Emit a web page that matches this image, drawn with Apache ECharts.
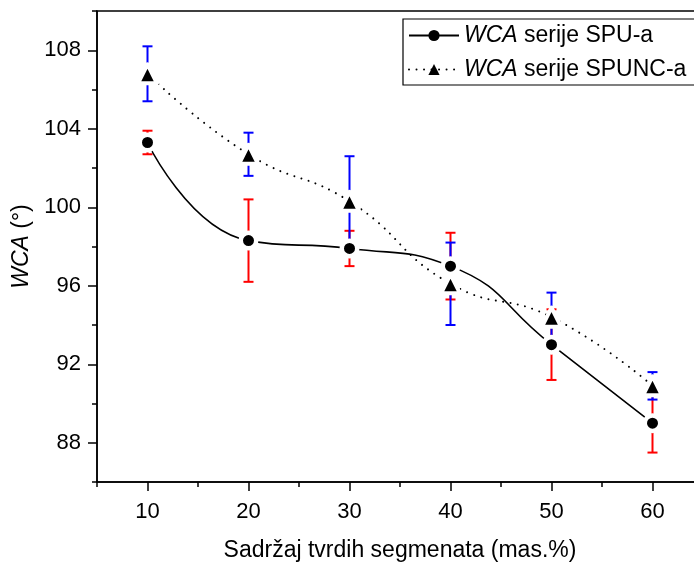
<!DOCTYPE html>
<html>
<head>
<meta charset="utf-8">
<script src="https://cdn.jsdelivr.net/npm/echarts@6/dist/echarts.min.js"></script>
<style>
html,body{margin:0;padding:0;background:#fff;}
#c{width:694px;height:562px;}
</style>
</head>
<body>
<div id="c"></div>
<script>
// ---- data ----
const xValues = [10, 20, 30, 40, 50, 60];
const spuValues = [103.3, 98.3, 97.9, 97.0, 93.0, 89.0];
const spuErrors = [0.6, 2.1, 0.9, 1.7, 1.8, 1.5];
const spuncValues = [106.8, 102.7, 100.3, 96.1, 94.4, 90.9];
const spuncErrors = [1.4, 1.1, 2.3, 2.1, 1.25, 0.7];
const xMajorTicks = [10, 20, 30, 40, 50, 60];
const xMinorTicks = [5, 15, 25, 35, 45, 55, 65];
const yMajorTicks = [88, 92, 96, 100, 104, 108];
const yMinorTicks = [86, 90, 94, 98, 102, 106, 110];
const seriesNames = ['WCA serije SPU-a', 'WCA serije SPUNC-a'];

const FONT = '"Liberation Sans", Arial, sans-serif';
const FS = 22;
const FS_T = 23;

const pts = (vals) => xValues.map((x, i) => [x, vals[i]]);
const errData = (vals, errs) => xValues.map((x, i) => [x, vals[i] - errs[i], vals[i] + errs[i]]);

function errorBarRender(color) {
  return function (params, api) {
    const x = api.value(0), lo = api.value(1), hi = api.value(2);
    const pHi = api.coord([x, hi]);
    const pLo = api.coord([x, lo]);
    const hw = 5;
    const style = { stroke: color, lineWidth: 2 };
    return {
      type: 'group',
      children: [
        { type: 'line', shape: { x1: pHi[0], y1: pHi[1], x2: pLo[0], y2: pLo[1] }, style },
        { type: 'line', shape: { x1: pHi[0] - hw, y1: pHi[1], x2: pHi[0] + hw, y2: pHi[1] }, style },
        { type: 'line', shape: { x1: pLo[0] - hw, y1: pLo[1], x2: pLo[0] + hw, y2: pLo[1] }, style }
      ]
    };
  };
}

const chart = echarts.init(document.getElementById('c'), null, { renderer: 'canvas' });

const baseValueAxis = {
  type: 'value',
  splitLine: { show: false }
};

chart.setOption({
  animation: false,
  backgroundColor: '#ffffff',
  textStyle: { fontFamily: FONT },
  grid: {
    left: 97, top: 11, width: 606, height: 471,
    outerBoundsMode: 'none',
    containLabel: false,
    show: true, borderColor: '#000', borderWidth: 1.5, backgroundColor: 'transparent'
  },
  legend: {
    orient: 'vertical',
    left: 403, top: 19,
    padding: [5, 140, 4, 5],
    itemGap: 11,
    itemWidth: 50, itemHeight: 14,
    backgroundColor: '#fff',
    borderColor: '#000', borderWidth: 1.2,
    itemStyle: { borderWidth: 0 },
    textStyle: {
      fontFamily: FONT, fontSize: FS_T, color: '#000',
      rich: { i: { fontFamily: FONT, fontSize: FS_T, fontStyle: 'italic', color: '#000' } }
    },
    formatter: function (name) {
      return '{i|WCA}' + name.slice(3);
    },
    data: seriesNames
  },
  xAxis: [
    Object.assign({}, baseValueAxis, {
      min: 5, max: 65,
      name: 'Sadržaj tvrdih segmenata (mas.%)',
      nameLocation: 'middle', nameGap: 57,
      nameTextStyle: { fontFamily: FONT, fontSize: FS_T, color: '#000' },
      axisLine: { show: true, onZero: false, lineStyle: { color: '#000', width: 1.5 } },
      axisTick: { show: true, inside: false, length: 9, customValues: xMajorTicks, lineStyle: { color: '#000', width: 1.5 } },
      axisLabel: { customValues: xMajorTicks, margin: 19, fontFamily: FONT, fontSize: FS, color: '#000' }
    }),
    Object.assign({}, baseValueAxis, {
      min: 5, max: 65, position: 'bottom',
      axisLine: { show: false },
      axisTick: { show: true, inside: false, length: 5, customValues: xMinorTicks, lineStyle: { color: '#000', width: 1.5 } },
      axisLabel: { show: false }
    })
  ],
  yAxis: [
    Object.assign({}, baseValueAxis, {
      min: 86, max: 110,
      name: '{i|WCA} (°)',
      nameLocation: 'middle', nameGap: 51,
      nameTextStyle: {
        fontFamily: FONT, fontSize: FS_T, color: '#000',
        rich: { i: { fontFamily: FONT, fontSize: FS_T, fontStyle: 'italic', color: '#000' } }
      },
      axisLine: { show: true, onZero: false, lineStyle: { color: '#000', width: 1.5 } },
      axisTick: { show: true, inside: false, length: 9, customValues: yMajorTicks, lineStyle: { color: '#000', width: 1.5 } },
      axisLabel: { customValues: yMajorTicks, margin: 16, fontFamily: FONT, fontSize: FS, color: '#000' }
    }),
    Object.assign({}, baseValueAxis, {
      min: 86, max: 110, position: 'left',
      axisLine: { show: false },
      axisTick: { show: true, inside: false, length: 5, customValues: yMinorTicks, lineStyle: { color: '#000', width: 1.5 } },
      axisLabel: { show: false }
    })
  ],
  series: [
    {
      type: 'custom', name: 'errSPU', xAxisIndex: 0, yAxisIndex: 0, z: 1,
      renderItem: errorBarRender('#ff0000'),
      data: errData(spuValues, spuErrors)
    },
    {
      type: 'custom', name: 'errSPUNC', xAxisIndex: 0, yAxisIndex: 0, z: 1,
      renderItem: errorBarRender('#0000ff'),
      data: errData(spuncValues, spuncErrors)
    },
    {
      type: 'line', name: seriesNames[1], xAxisIndex: 0, yAxisIndex: 0, z: 3,
      smooth: 0.5,
      symbol: 'triangle', symbolSize: 19,
      lineStyle: { color: '#000', width: 2, type: [0.01, 7.5], cap: 'round' },
      itemStyle: { color: '#000', borderColor: '#fff', borderWidth: 4, borderJoin: 'round' },
      data: pts(spuncValues)
    },
    {
      type: 'line', name: seriesNames[0], xAxisIndex: 0, yAxisIndex: 0, z: 4,
      smooth: 0.5,
      symbol: 'circle', symbolSize: 15.5,
      lineStyle: { color: '#000', width: 1.6 },
      itemStyle: { color: '#000', borderColor: '#fff', borderWidth: 4.5 },
      data: pts(spuValues)
    }
  ]
});
</script>
</body>
</html>
